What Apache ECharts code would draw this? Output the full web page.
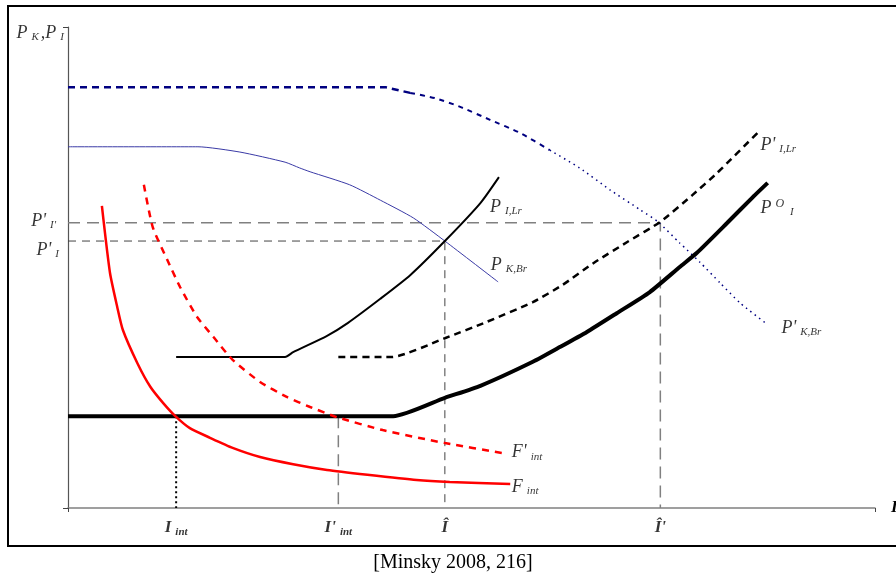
<!DOCTYPE html>
<html><head><meta charset="utf-8">
<script src="https://cdn.jsdelivr.net/npm/echarts@6/dist/echarts.min.js"></script>
<style>html,body{margin:0;padding:0;background:#fff}#c{width:896px;height:584px}</style>
</head><body><div id="c"></div>
<script>
// ---- data (arbitrary units: x 0..100, y 0..100) ----
const pKBrPrime = [[0,87.5],[39.3,87.5],[42.4,86.3],[45.5,85.2],[48.6,83.4],[52.3,80.7],[56.0,78.0],[59.7,74.4],[63.4,70.7],[67.2,66.1],[70.9,62.0],[73.1,59.5],[75.8,55.1],[78.3,51.1],[80.8,46.8],[83.3,42.6],[86.4,38.5]];
const pKBr = [[0,75.1],[16.1,75.1],[21.3,74.0],[26.9,71.9],[28.7,70.7],[30.0,69.9],[34.9,67.2],[38.7,64.0],[42.8,60.3],[46.7,55.5],[53.3,47.0]];
const pILr = [[13.4,31.4],[26.9,31.4],[27.9,32.4],[32.1,35.8],[34.7,38.5],[38.7,43.5],[42.4,48.4],[46.7,55.5],[51.1,63.4],[53.4,68.8]];
const pILrPrime = [[33.5,31.4],[40.1,31.4],[46.7,35.3],[51.9,38.7],[57.6,42.8],[61.3,46.4],[65.1,50.9],[69.3,55.3],[73.4,59.5],[77.4,65.1],[80.4,69.6],[85.8,78.6]];
const pOI = [[0,19.1],[40.3,19.1],[46.7,22.9],[51.1,25.4],[57.6,30.4],[61.0,33.5],[64.3,36.6],[68.0,40.5],[72.1,44.9],[75.8,50.1],[77.9,53.0],[81.7,59.3],[84.9,64.7],[86.7,67.6]];
const fInt = [[4.2,62.8],[5.2,48.9],[6.1,41.8],[6.8,37.0],[8.6,30.1],[10.2,25.2],[11.8,21.8],[13.3,19.1],[15.1,16.6],[17.6,14.6],[20.4,12.5],[23.8,10.6],[27.9,9.1],[32.1,7.9],[37.1,6.9],[43.2,5.8],[47.3,5.4],[54.8,5.0]];
const fIntPrime = [[9.4,67.2],[10.5,58.4],[12.3,51.6],[13.9,45.9],[16.0,39.7],[18.0,35.6],[20.4,30.8],[23.8,26.2],[27.1,23.1],[30.0,21.0],[33.3,18.9],[39.0,16.2],[46.7,13.5],[53.9,11.4]];

// equilibrium levels
const priceIPrimeIPrime = 59.3;   // P'_I'
const priceIPrime = 55.5;         // P'_I
const floorPOI = 19.1;
const iInt = 13.4, iIntPrime = 33.5, iHat = 46.7, iHatPrime = 73.4;

// tick labels
const xTickValues = [iInt, iIntPrime, iHat, iHatPrime];
const xTickLabels = ['{x|I}{xs|int}', "{x|I'}{xs|int}", '{x|Î}', "{x|Î'}"];
const yTickValues = [priceIPrimeIPrime, priceIPrime];
const yTickLabels = ["{p|P'}{s|I'}", "{p|P'}{s|I}"];
const yTitle = '{p|P}{s|K}{p|,P}{s|I}';
const xTitle = 'I';

// curve names
const curveNames = ['{p|P}{s|I,Lr}', '{p|P}{s|K,Br}', "{p|P'}{s|I,Lr}", '{p|P}{sup|O}{s|I}', "{p|P'}{s|K,Br}", "{p|F'}{s|int}", '{p|F}{s|int}'];
const curveNameAt = [[52.3,62.6],[52.4,50.5],[85.8,75.5],[85.8,62.4],[88.4,37.4],[55.0,11.6],[55.0,4.4]];
const caption = '[Minsky 2008, 216]';

// ---- build ----
const SERIF = 'Liberation Serif';
const rich = {
  p: {fontFamily: SERIF, fontStyle: 'italic', fontSize: 18, lineHeight: 20, color: '#000'},
  s: {fontFamily: SERIF, fontStyle: 'italic', fontSize: 11, lineHeight: 10, verticalAlign: 'bottom', padding: [0,2,0,4], color: '#000'},
  sup: {fontFamily: SERIF, fontStyle: 'italic', fontSize: 12, lineHeight: 11, verticalAlign: 'top', padding: [0,2,0,4], color: '#000'},
  x: {fontFamily: SERIF, fontStyle: 'italic', fontWeight: 'bold', fontSize: 17, lineHeight: 20, color: '#000'},
  xs: {fontFamily: SERIF, fontStyle: 'italic', fontWeight: 'bold', fontSize: 11, lineHeight: 10, verticalAlign: 'bottom', padding: [0,0,0,4], color: '#000'}
};

function line(data, color, width, type, extra) {
  return Object.assign({
    type: 'line', data: data, showSymbol: false, symbol: 'none', silent: true,
    smooth: 0.2, clip: false,
    lineStyle: {color: color, width: width, type: type || 'solid'}
  }, extra || {});
}

const labelData = [];
curveNames.forEach((t, i) => labelData.push({value: curveNameAt[i], label: {formatter: t, align: 'left', offset: [0, 0]}}));
xTickValues.forEach((v, i) => labelData.push({value: [v, 0], label: {formatter: xTickLabels[i], align: 'center', offset: [0, 20]}}));
labelData.push({value: [0, yTickValues[0]], label: {formatter: yTickLabels[0], align: 'right', offset: [-10, -2]}});
labelData.push({value: [0, yTickValues[1]], label: {formatter: yTickLabels[1], align: 'right', offset: [-7, 9]}});
labelData.push({value: [0, 100], label: {formatter: yTitle, align: 'right', offset: [-2, 6]}});

const series = [
  line([[0, priceIPrimeIPrime], [iHatPrime, priceIPrimeIPrime], [iHatPrime, 0]], '#808080', 1.5, [12, 7], {smooth: false}),
  line([[0, priceIPrime], [iHat, priceIPrime], [iHat, 0]], '#444', 1, [8, 6], {smooth: false}),
  line([[iIntPrime, floorPOI], [iIntPrime, 0]], '#808080', 1.5, [12, 7], {smooth: false}),
  line([[iInt, floorPOI], [iInt, 0]], '#000', 2, [2, 3], {smooth: false}),
  line(pKBrPrime.slice(0, 3), '#000080', 2.5, [7, 5], {smooth: false}),
  line(pKBrPrime.slice(2, 8), '#000080', 2, [5, 5]),
  line(pKBrPrime.slice(7), '#000080', 1.5, [1.5, 4]),
  line(pKBr, '#3a3aa6', 1),
  line(pILr, '#000', 2),
  line(pILrPrime, '#000', 2.5, [7, 5]),
  line(pOI, '#000', 4),
  line(fInt, '#ff0000', 2.5),
  line(fIntPrime, '#ff0000', 2.5, [7, 6]),
  {
    type: 'scatter', data: labelData, symbolSize: 0, silent: true, clip: false, z: 10,
    label: {show: true, position: [0, 0], verticalAlign: 'middle', rich: rich}
  }
];

const chart = echarts.init(document.getElementById('c'), null, {renderer: 'canvas'});
chart.setOption({
  animation: false,
  backgroundColor: '#fff',
  grid: {left: 68, right: 21, top: 27, bottom: 76, containLabel: false, outerBoundsMode: 'none'},
  xAxis: {
    type: 'value', min: 0, max: 100, interval: 100,
    axisLine: {lineStyle: {color: '#808080', width: 1.5}},
    axisTick: {show: true, length: 4, lineStyle: {color: '#444', width: 1}},
    axisLabel: {show: false}, splitLine: {show: false},
    name: xTitle, nameLocation: 'end', nameGap: 16,
    nameTextStyle: {fontFamily: SERIF, fontStyle: 'italic', fontWeight: 'bold', fontSize: 17, color: '#000', align: 'left', verticalAlign: 'middle', padding: [18, 0, 0, 0]}
  },
  yAxis: {
    type: 'value', min: 0, max: 100, interval: 100,
    axisLine: {lineStyle: {color: '#555', width: 1.2}},
    axisTick: {show: true, length: 5, lineStyle: {color: '#444', width: 1}},
    axisLabel: {show: false}, splitLine: {show: false}
  },
  graphic: [
    {type: 'rect', shape: {x: 8, y: 6, width: 900, height: 540}, style: {fill: 'none', stroke: '#000', lineWidth: 2}, silent: true},
    {type: 'text', x: 453, y: 563, style: {text: caption, font: '20px "Liberation Serif"', fill: '#000', align: 'center', verticalAlign: 'middle'}, silent: true}
  ],
  series: series
});
</script></body></html>
